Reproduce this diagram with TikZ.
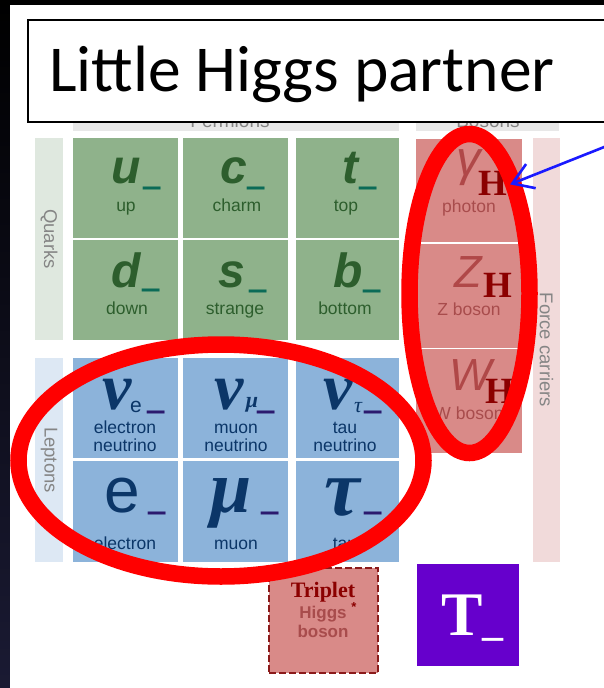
\documentclass[tikz,border=0pt]{standalone}
\usepackage{fontspec}
\usepackage{graphicx}
\setmainfont{Liberation Sans}
\newfontfamily\titlefont{Carlito}
\newfontfamily\serfont{Liberation Serif}
\usetikzlibrary{arrows.meta}
\newcommand\fsz[1]{\fontsize{#1}{#1}\selectfont}
\definecolor{qgreen}{HTML}{8FB28B}
\definecolor{lblue}{HTML}{8CB3DA}
\definecolor{bsalmon}{HTML}{D98A88}
\definecolor{qside}{HTML}{DFE8DF}
\definecolor{lside}{HTML}{DDE8F4}
\definecolor{fside}{HTML}{F1DADA}
\definecolor{hdrgray}{HTML}{E8E8E8}
\definecolor{labgray}{HTML}{858585}
\definecolor{qtext}{HTML}{2D5E2D}
\definecolor{qteal}{HTML}{0B6B57}
\definecolor{ltext}{HTML}{0B3668}
\definecolor{lbar}{HTML}{2B1A6E}
\definecolor{btext}{HTML}{B04848}
\definecolor{blabc}{HTML}{A84C4C}
\definecolor{hred}{HTML}{8B0000}
\definecolor{tborder}{HTML}{8B1A1A}
\definecolor{tpurple}{HTML}{6600CC}
\definecolor{ringred}{HTML}{FF0000}
\definecolor{arrowblue}{HTML}{1A1AFF}
\definecolor{spacebg}{HTML}{1A1A33}
\tikzset{
 cell/.style={inner sep=0pt, minimum width=105pt, minimum height=100pt},
 qcell/.style={cell, fill=qgreen},
 lcell/.style={cell, fill=lblue},
 bcell/.style={inner sep=0pt, minimum width=106pt, minimum height=103.5pt, fill=bsalmon},
 sidebar/.style={inner sep=0pt, rotate=-90, text=labgray, font=\fsz{18.5}, minimum height=28pt},
 hdrbar/.style={inner sep=0pt, fill=hdrgray, minimum height=22pt},
 hdrtext/.style={anchor=base, inner sep=0pt, text=labgray, font=\fsz{19}},
 txt/.style={anchor=base, inner sep=0pt},
 qsym/.style={txt, text=qtext, font=\fsz{48}\bfseries\itshape},
 qlab/.style={txt, text=qtext, font=\fsz{17.5}},
 qbar/.style={inner sep=0pt, text=qteal, font=\fsz{31}\bfseries},
 lsym/.style={txt, text=ltext, font=\serfont\bfseries\itshape\fsz{66}},
 lsub/.style={txt, text=ltext},
 llab/.style={txt, text=ltext, font=\fsz{17.5}},
 lbarst/.style={inner sep=0pt, text=lbar, font=\fsz{31}\bfseries},
 bsym/.style={txt, text=btext, font=\fsz{45}\itshape},
 hsub/.style={txt, text=hred, font=\serfont\bfseries\fsz{37}},
 blab/.style={txt, text=blabc, font=\fsz{17.5}},
 ring/.style={draw=ringred, line width=16.5pt},
 pointer/.style={draw=arrowblue, line width=2.6pt, -{Straight Barb[length=20pt,width=26pt]}},
}
\begin{document}
\begin{tikzpicture}[x=1pt,y=-1pt]
\useasboundingbox (0,0) rectangle (604,688);
\clip (0,0) rectangle (604,688);
% background
\shade[top color=black, bottom color=spacebg] (0,0) rectangle (604,688);
\fill[white] (10,5) rectangle (604,688);
% headers
\node[hdrbar, minimum width=326pt] (fermbar) at (236,120) {};
\node[hdrtext] (fermtxt) at (230,127.5) {Fermions};
\node[hdrbar, minimum width=143pt] (bosbar) at (487.5,120) {};
\node[hdrtext] (bostxt) at (488,127.5) {Bosons};
% title
\node[draw=black, line width=1.5pt, fill=white, anchor=north west, minimum width=600pt, minimum height=102pt, inner sep=0pt] (titlebox) at (27,19) {};
\node[txt, anchor=base west, font=\titlefont\fsz{65.5}] (titletext) at (49,91) {Little Higgs partner};
% side bars
\node[sidebar, fill=qside, minimum width=202pt] (quarks) at (49,239) {Quarks};
\node[sidebar, fill=lside, minimum width=204pt] (leptons) at (49,460) {Leptons};
\node[sidebar, fill=fside, minimum width=424pt, minimum height=27pt] (force) at (546.5,350) {Force carriers};
% quark cells
\node[qcell] (u) at (125.5,188) {};
\node[qcell] (c) at (235.5,188) {};
\node[qcell, minimum width=103pt] (t) at (347.5,188) {};
\node[qcell] (d) at (125.5,290) {};
\node[qcell] (s) at (235.5,290) {};
\node[qcell, minimum width=103pt] (b) at (347.5,290) {};
% lepton cells
\node[lcell] (ne) at (125.5,408) {};
\node[lcell] (nm) at (235.5,408) {};
\node[lcell, minimum width=103pt] (nt) at (347.5,408) {};
\node[lcell, minimum height=101pt] (e) at (125.5,511.5) {};
\node[lcell, minimum height=101pt] (m) at (235.5,511.5) {};
\node[lcell, minimum width=103pt, minimum height=101pt] (ta) at (347.5,511.5) {};
% boson cells
\node[bcell] (g) at (469,190.5) {};
\node[bcell] (z) at (469,296) {};
\node[bcell] (w) at (469,401) {};
% extra cells
\node[draw=tborder, line width=1.6pt, dash pattern=on 7pt off 3pt, fill=bsalmon, minimum width=109pt, minimum height=105pt, inner sep=0pt] (trip) at (323.5,620.5) {};
\node[fill=tpurple, minimum width=102pt, minimum height=102pt, inner sep=0pt] (tbox) at (468,615) {};
% quark texts
\node[qsym] (uS) at (126,183) {u};
\node[qbar] (uB) at (152.5,185) {\scalebox{1}[2.5]{\_}};
\node[qlab] (uL) at (126,211) {up};
\node[qsym] (cS) at (233.5,183) {c};
\node[qbar] (cB) at (256.5,185) {\scalebox{1}[2.5]{\_}};
\node[qlab] (cL) at (237,211) {charm};
\node[qsym] (tS) at (350.5,183) {t};
\node[qbar] (tB) at (368.5,185.5) {\scalebox{1}[2.5]{\_}};
\node[qlab] (tL) at (346,211) {top};
\node[qsym] (dS) at (126,287) {d};
\node[qbar] (dB) at (151,287.5) {\scalebox{1}[2.5]{\_}};
\node[qlab] (dL) at (127,314) {down};
\node[qsym] (sS) at (231.5,287) {s};
\node[qbar] (sB) at (258,288) {\scalebox{1}[2.5]{\_}};
\node[qlab] (sL) at (235,314) {strange};
\node[qsym] (bS) at (348,287) {b};
\node[qbar] (bB) at (372,288) {\scalebox{1}[2.5]{\_}};
\node[qlab] (bL) at (345,314) {bottom};
% lepton texts
\node[lsym] (neS) at (117,409) {ν};
\node[lsub, font=\fsz{21}] (neSub) at (136,412) {e};
\node[lbarst] (neB) at (156,409.5) {\scalebox{1}[2.5]{\_}};
\node[llab] (neL1) at (125,433) {electron};
\node[llab] (neL2) at (125,451) {neutrino};
\node[lsym] (nmS) at (229,409) {ν};
\node[lsub, font=\serfont\bfseries\itshape\fsz{22}] (nmSub) at (252,407) {μ};
\node[lbarst] (nmB) at (266,409.5) {\scalebox{1}[2.5]{\_}};
\node[llab] (nmL1) at (236,433) {muon};
\node[llab] (nmL2) at (236,451) {neutrino};
\node[lsym] (ntS) at (338.5,409) {ν};
\node[lsub, font=\serfont\itshape\fsz{22}] (ntSub) at (358,412) {τ};
\node[lbarst] (ntB) at (373.5,409.5) {\scalebox{1}[2.5]{\_}};
\node[llab] (ntL1) at (345,433) {tau};
\node[llab] (ntL2) at (345,451) {neutrino};
\node[lsub, font=\fsz{64}] (eS) at (122,512) {e};
\node[lbarst] (eB) at (157.5,510) {\scalebox{1}[2.5]{\_}};
\node[llab] (eL) at (125,549) {electron};
\node[lsym, font=\serfont\bfseries\itshape\fsz{74}] (mS) at (231,512) {μ};
\node[lbarst] (mB) at (270.5,510) {\scalebox{1}[2.5]{\_}};
\node[llab] (mL) at (236,549) {muon};
\node[lsym, font=\serfont\bfseries\itshape\fsz{80}] (taS) at (342,515) {τ};
\node[lbarst] (taB) at (373,510) {\scalebox{1}[2.5]{\_}};
\node[llab] (taL) at (345,549) {tau};
% boson texts
\node[bsym, font=\fsz{49}\itshape] (gS) at (469,175) {γ};
\node[hsub] (gH) at (492.5,195) {H};
\node[blab] (gL) at (469,212) {photon};
\node[bsym] (zS) at (468.5,287) {Z};
\node[hsub] (zH) at (498,297) {H};
\node[blab] (zL) at (469,315) {Z boson};
\node[bsym] (wS) at (471,390) {W};
\node[hsub] (wH) at (499.5,403) {H};
\node[blab] (wL) at (469,419) {W boson};
% triplet & T
\node[txt, text=hred, font=\serfont\bfseries\fsz{22}] (tripT) at (323,597) {Triplet};
\node[txt, text=hred, font=\bfseries\fsz{13}] (tripA) at (354,611) {*};
\node[txt, text=blabc, font=\bfseries\fsz{17}] (tripH) at (323,618) {Higgs};
\node[txt, text=blabc, font=\bfseries\fsz{17}] (tripB) at (323,637) {boson};
\node[txt, anchor=base west, text=white, font=\serfont\bfseries\fsz{62}] (tT) at (441,635) {T{\fsz{42}\_}};
% rings
\draw[ring] (221,460.5) ellipse [x radius=202.5pt, y radius=116pt];
\draw[ring] (469.5,293.5) ellipse [x radius=60pt, y radius=159.5pt];
% arrow
\coordinate (asrc) at (608,145.5);
\draw[pointer] (asrc) -- ([xshift=3pt,yshift=-1.5pt]gH.east);
\end{tikzpicture}
\end{document}
